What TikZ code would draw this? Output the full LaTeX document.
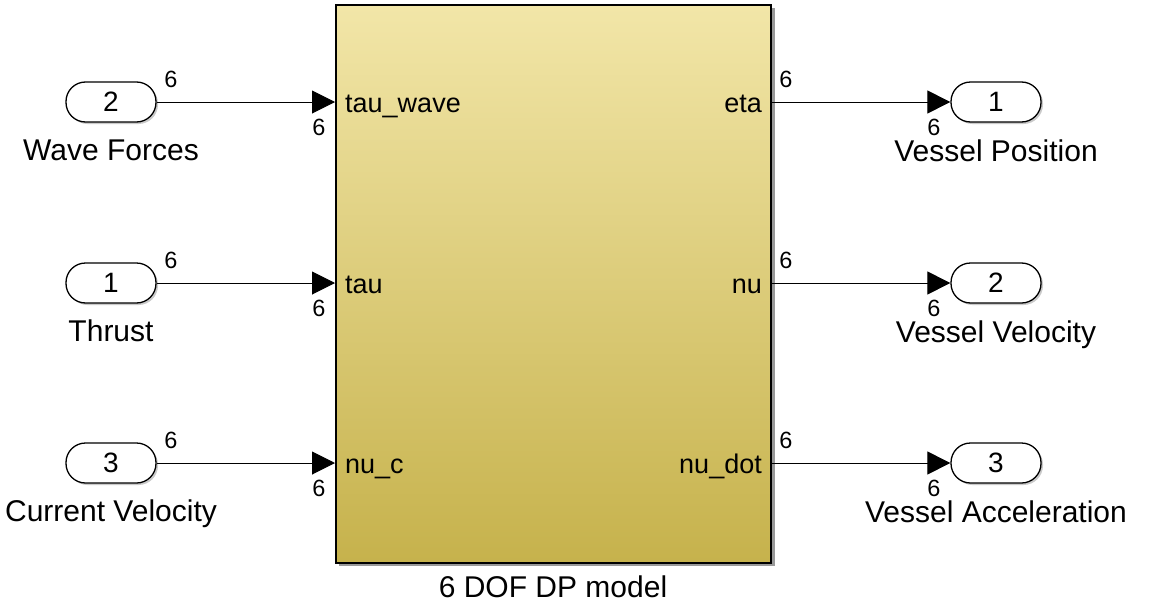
\documentclass[tikz,border=0pt]{standalone}
\usepackage{fontspec}
\setmainfont{Liberation Sans}
\usetikzlibrary{arrows.meta,shadows}
\definecolor{blktop}{HTML}{F2E6A8}
\definecolor{blkbot}{HTML}{C6B24C}
\tikzset{
  port/.style={draw,line width=1.3pt,rounded corners=19.5pt,minimum width=90pt,minimum height=40pt,inner sep=0pt,fill=white,
    drop shadow={shadow xshift=2pt,shadow yshift=-2pt,fill=black!35,opacity=0.6},font=\fontsize{28}{28}\selectfont},
  lbl/.style={font=\fontsize{30}{30}\selectfont,inner sep=0pt,text height=21.5pt,text depth=6.5pt,anchor=base},
  plbl/.style={font=\fontsize{27}{27}\selectfont,inner sep=0pt,text height=20pt,text depth=6pt},
  dim/.style={font=\fontsize{23.5}{23.5}\selectfont,inner sep=0pt,text height=16.5pt,text depth=0pt,anchor=base},
  sig/.style={line width=1pt,-{Triangle[length=23pt,width=23pt]}},
}
\begin{document}
\begin{tikzpicture}[x=1pt,y=-1pt]
\useasboundingbox (0,0) rectangle (1151,605);
% block
\fill[black!40] (339,8) rectangle (775,566);
\node[draw,line width=2pt,top color=blktop,bottom color=blkbot,minimum width=435pt,minimum height=558pt,inner sep=0pt,anchor=north west] (blk) at (335,4) {};
\node[lbl] (blkname) at (553,597) {6 DOF DP model};
% coordinates of ports on block
\coordinate (i1) at (335,102);
\coordinate (i2) at (335,283);
\coordinate (i3) at (335,463);
\coordinate (o1) at (770,102);
\coordinate (o2) at (770,283);
\coordinate (o3) at (770,463);
\node[plbl,anchor=base west] (pl1) at (345,112) {tau\_wave};
\node[plbl,anchor=base west] (pl2) at (345,293) {tau};
\node[plbl,anchor=base west] (pl3) at (345,473) {nu\_c};
\node[plbl,anchor=base east] (pr1) at (762,112) {eta};
\node[plbl,anchor=base east] (pr2) at (762,293) {nu};
\node[plbl,anchor=base east] (pr3) at (762,473) {nu\_dot};
% inports
\node[port] (in2) at (111,102) {2};
\node[port] (in1) at (111,283) {1};
\node[port] (in3) at (111,463) {3};
\node[lbl] (nin2) at (111,160) {Wave Forces};
\node[lbl] (nin1) at (111,341) {Thrust};
\node[lbl] (nin3) at (111,521) {Current Velocity};
% outports
\node[port] (out1) at (996,102) {1};
\node[port] (out2) at (996,283) {2};
\node[port] (out3) at (996,463) {3};
\node[lbl] (nout1) at (996,161) {Vessel Position};
\node[lbl] (nout2) at (996,342) {Vessel Velocity};
\node[lbl] (nout3) at (996,522) {Vessel Acceleration};
% signals
\draw[sig] (in2.east) -- (i1);
\draw[sig] (in1.east) -- (i2);
\draw[sig] (in3.east) -- (i3);
\draw[sig] (o1) -- (out1.west);
\draw[sig] (o2) -- (out2.west);
\draw[sig] (o3) -- (out3.west);
% dims
\foreach \y/\n in {102/a,283/b,463/c}{
  \node[dim] (du\n) at (171,\y-15) {6};
  \node[dim] (dd\n) at (319,\y+33) {6};
  \node[dim] (eu\n) at (786,\y-15) {6};
  \node[dim] (ed\n) at (934,\y+33) {6};
}
\end{tikzpicture}
\end{document}
